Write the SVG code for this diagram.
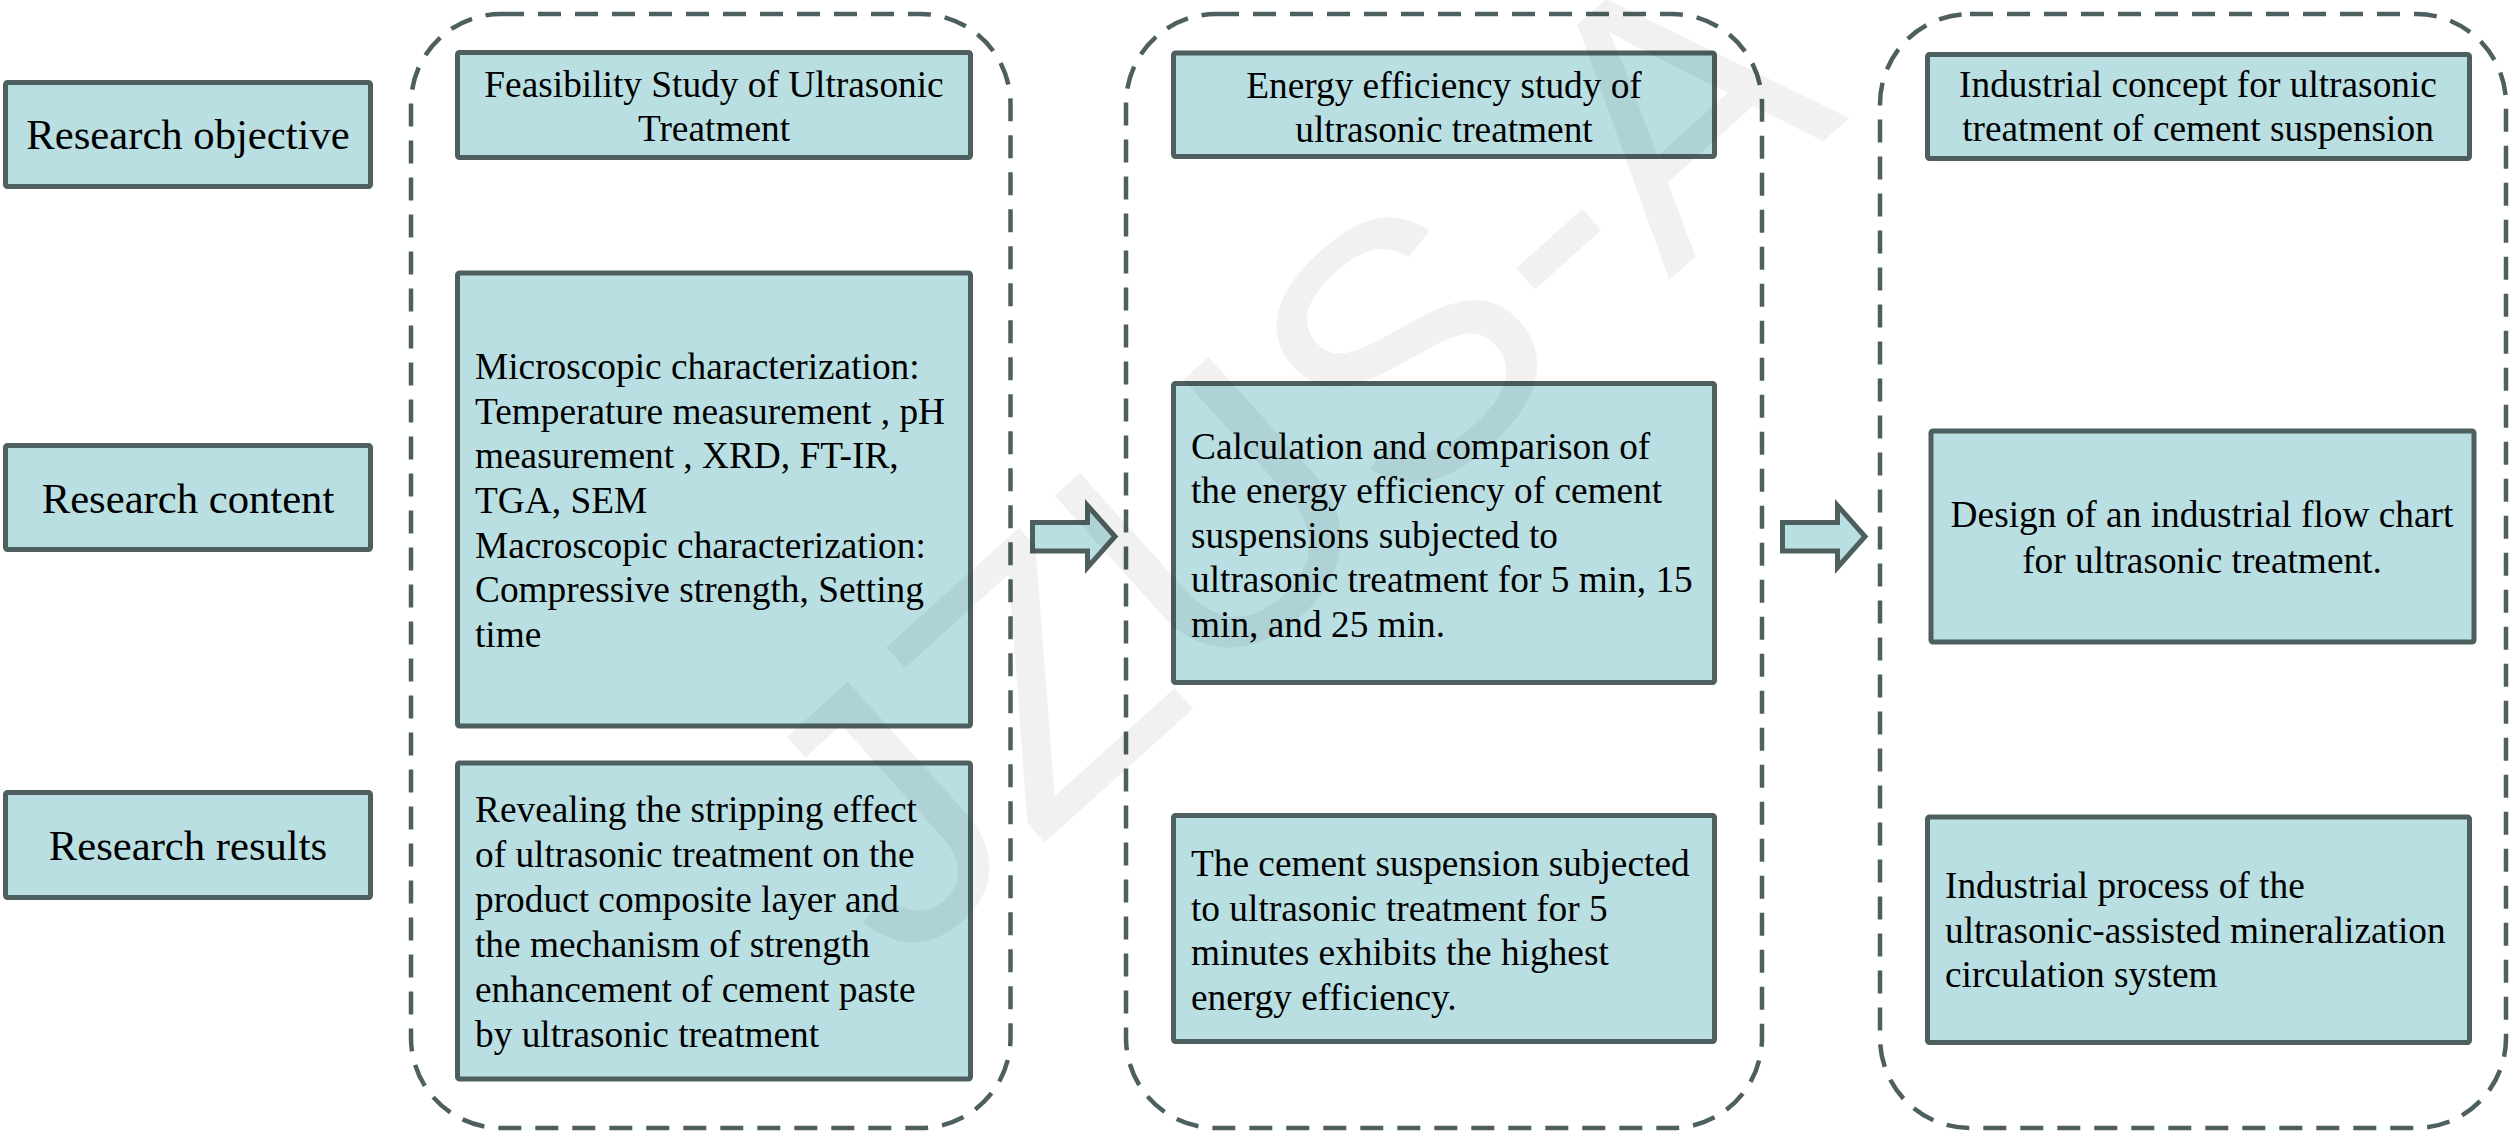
<svg xmlns="http://www.w3.org/2000/svg" width="2511" height="1132" viewBox="0 0 2511 1132">
<style>
.box{fill:#b9dfe2;stroke:#4d605f;stroke-width:5}
.cont{fill:none;stroke:#4d605f;stroke-width:4.5;stroke-dasharray:23 14}
.t{font-family:"Liberation Serif","Times New Roman",serif;font-size:37.33px;fill:#000}
.lab{font-family:"Liberation Serif","Times New Roman",serif;font-size:42.67px;fill:#000;text-anchor:middle}
.c{text-anchor:middle}
.arr{fill:#b9dfe2;stroke:#4d605f;stroke-width:5;stroke-linejoin:miter}
.wm{font-family:"Liberation Sans",Arial,sans-serif;font-size:365px;fill:#000;fill-opacity:0.055;text-anchor:middle}
</style>
<rect width="2511" height="1132" fill="#fff"/>

<g id="containers">
<rect id="stage1" class="cont" x="411" y="14" width="599.5" height="1114" rx="90" ry="90"/>
<rect id="stage2" class="cont" x="1126" y="14" width="636" height="1114" rx="90" ry="90"/>
<rect id="stage3" class="cont" x="1880" y="14" width="626" height="1114" rx="90" ry="90"/>
</g>

<g id="label-objective">
<rect class="box" x="5.5" y="82.5" width="365" height="104" rx="2"/>
<text class="lab" x="188" y="149">Research objective</text>
</g>
<g id="label-content">
<rect class="box" x="5.5" y="445.5" width="365" height="104" rx="2"/>
<text class="lab" x="188" y="512.5">Research content</text>
</g>
<g id="label-results">
<rect class="box" x="5.5" y="792.5" width="365" height="105" rx="2"/>
<text class="lab" x="188" y="860">Research results</text>
</g>

<g id="s1-title">
<rect class="box" x="457.5" y="52.5" width="513" height="105" rx="2"/>
<text class="t c" x="714" y="97">Feasibility Study of Ultrasonic</text>
<text class="t c" x="714" y="140.5">Treatment</text>
</g>
<g id="s1-content">
<rect class="box" x="457.5" y="273" width="513" height="453" rx="2"/>
<text class="t" x="475" y="379">Microscopic characterization:</text>
<text class="t" x="475" y="423.5">Temperature measurement , pH</text>
<text class="t" x="475" y="468">measurement , XRD, FT-IR,</text>
<text class="t" x="475" y="513">TGA, SEM</text>
<text class="t" x="475" y="557.5">Macroscopic characterization:</text>
<text class="t" x="475" y="602">Compressive strength, Setting</text>
<text class="t" x="475" y="647">time</text>
</g>
<g id="s1-results">
<rect class="box" x="457.5" y="763" width="513" height="316" rx="2"/>
<text class="t" x="475" y="822">Revealing the stripping effect</text>
<text class="t" x="475" y="867">of ultrasonic treatment on the</text>
<text class="t" x="475" y="912">product composite layer and</text>
<text class="t" x="475" y="957">the mechanism of strength</text>
<text class="t" x="475" y="1002">enhancement of cement paste</text>
<text class="t" x="475" y="1047">by ultrasonic treatment</text>
</g>

<g id="s2-title">
<rect class="box" x="1173.5" y="53" width="541" height="103.5" rx="2"/>
<text class="t c" x="1444" y="97.5">Energy efficiency study of</text>
<text class="t c" x="1444" y="142">ultrasonic treatment</text>
</g>
<g id="s2-content">
<rect class="box" x="1173.5" y="383.5" width="541" height="299" rx="2"/>
<text class="t" x="1191" y="458.5">Calculation and comparison of</text>
<text class="t" x="1191" y="503">the energy efficiency of cement</text>
<text class="t" x="1191" y="547.5">suspensions subjected to</text>
<text class="t" x="1191" y="592">ultrasonic treatment for 5 min, 15</text>
<text class="t" x="1191" y="636.5">min, and 25 min.</text>
</g>
<g id="s2-results">
<rect class="box" x="1173.5" y="815.5" width="541" height="226" rx="2"/>
<text class="t" x="1191" y="876">The cement suspension subjected</text>
<text class="t" x="1191" y="920.5">to ultrasonic treatment for 5</text>
<text class="t" x="1191" y="965">minutes exhibits the highest</text>
<text class="t" x="1191" y="1009.5">energy efficiency.</text>
</g>

<g id="s3-title">
<rect class="box" x="1927.5" y="54.5" width="542" height="104" rx="2"/>
<text class="t c" x="2198" y="96.5">Industrial concept for ultrasonic</text>
<text class="t c" x="2198" y="141">treatment of cement suspension</text>
</g>
<g id="s3-content">
<rect class="box" x="1931" y="431" width="543" height="211" rx="2"/>
<text class="t c" x="2202" y="527">Design of an industrial flow chart</text>
<text class="t c" x="2202" y="572.5">for ultrasonic treatment.</text>
</g>
<g id="s3-results">
<rect class="box" x="1927.5" y="817" width="542" height="225.5" rx="2"/>
<text class="t" x="1945" y="897.5">Industrial process of the</text>
<text class="t" x="1945" y="942.5">ultrasonic-assisted mineralization</text>
<text class="t" x="1945" y="987">circulation system</text>
</g>

<g id="connectors">
<path class="arr" d="M1032.5,522.5 H1087.5 V505.5 L1115,536.5 L1087.5,567.5 V551 H1032.5 Z"/>
<path class="arr" d="M1782.5,522.5 H1837.5 V505.5 L1865,536.5 L1837.5,567.5 V551 H1782.5 Z"/>
</g>

<text class="wm" x="1375" y="545" transform="rotate(-42 1375 545)">JZUS-A</text>
</svg>
